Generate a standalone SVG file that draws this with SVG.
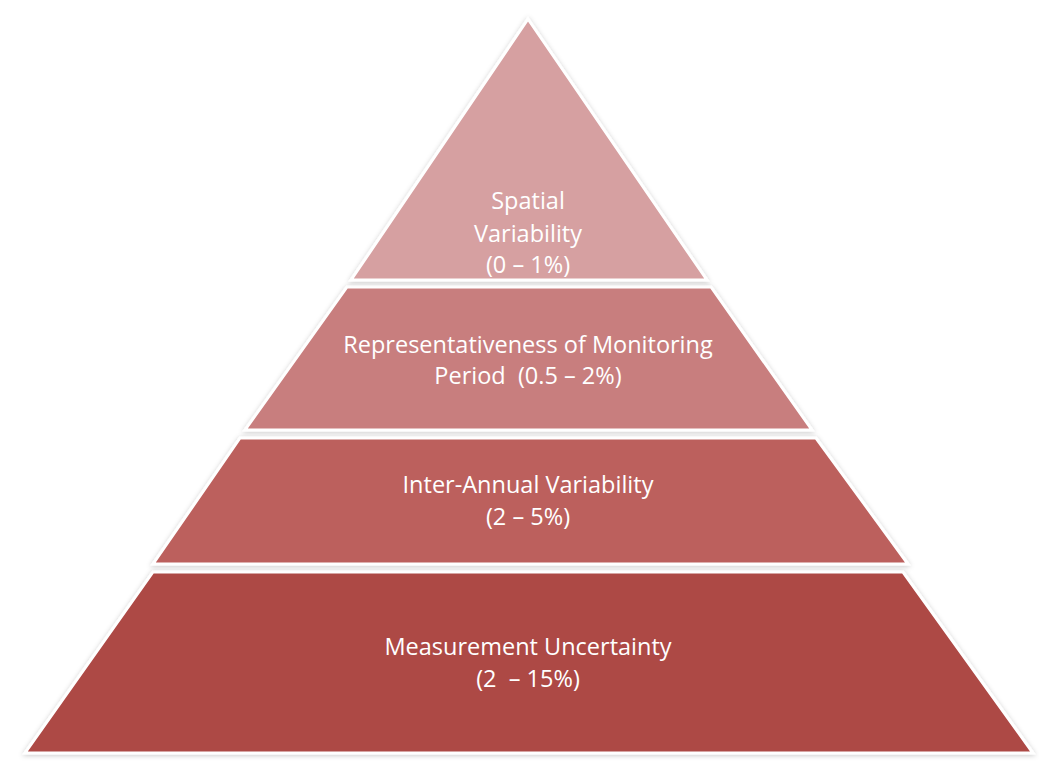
<svg xmlns="http://www.w3.org/2000/svg" width="1039" height="763" viewBox="0 0 1039 763">
  <defs>
    <filter id="sh" x="-10%" y="-10%" width="120%" height="120%">
      <feDropShadow dx="0" dy="1" stdDeviation="2.5" flood-color="#000" flood-opacity="0.22"/>
    </filter>
  </defs>
  <style>
    .layer { stroke: #fff; stroke-width: 3; stroke-linejoin: miter; filter: url(#sh); }
    .l1 { fill: #D6A0A1; }
    .l2 { fill: #C87E7E; }
    .l3 { fill: #BC605D; }
    .l4 { fill: #AD4845; }
    .lbl { font-family: "Open Sans", "Liberation Sans", sans-serif; font-size: 23.5px; fill: #fff; text-anchor: middle; }
  </style>
  <rect width="1039" height="763" fill="#fff"/>
  <g id="layer4">
    <polygon class="layer l4" points="153,572 903,572 1033,753 25,753"/>
    <text class="lbl" x="528" y="655">Measurement Uncertainty</text>
    <text class="lbl" x="528" y="687" xml:space="preserve">(2  – 15%)</text>
  </g>
  <g id="layer3">
    <polygon class="layer l3" points="240,438 816,438 908,564 153,564"/>
    <text class="lbl" x="528" y="493">Inter-Annual Variability</text>
    <text class="lbl" x="528" y="525">(2 – 5%)</text>
  </g>
  <g id="layer2">
    <polygon class="layer l2" points="347,287 711,287 812,430 245,430"/>
    <text class="lbl" x="528" y="353">Representativeness of Monitoring</text>
    <text class="lbl" x="528" y="384" xml:space="preserve">Period  (0.5 – 2%)</text>
  </g>
  <g id="layer1">
    <polygon class="layer l1" points="528,19 707,280 351,280"/>
    <text class="lbl" x="528" y="209">Spatial</text>
    <text class="lbl" x="528" y="242">Variability</text>
    <text class="lbl" x="528" y="273">(0 – 1%)</text>
  </g>
  <g id="connectors"/>
</svg>
